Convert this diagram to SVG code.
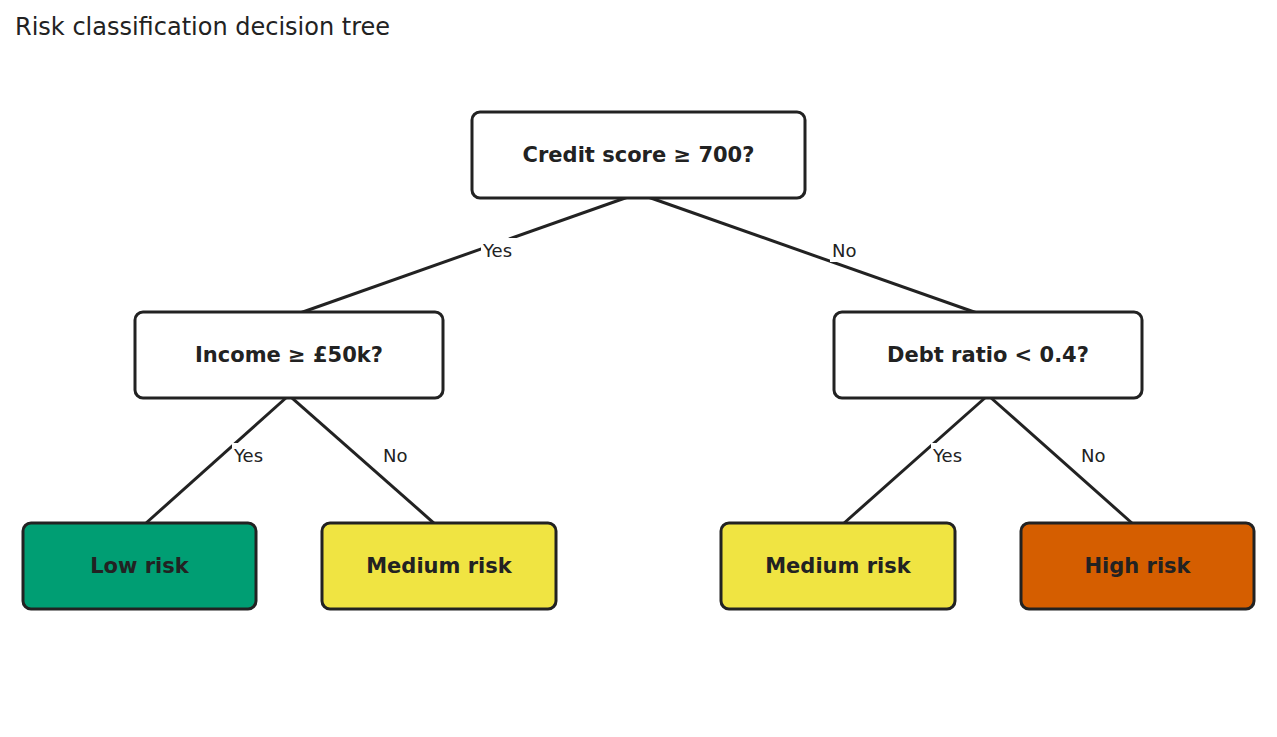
<svg xmlns="http://www.w3.org/2000/svg" width="1277" height="737" viewBox="0 0 1277 737">
<style>
.n{stroke:#222;stroke-width:3}
.t{font-family:"DejaVu Sans",sans-serif;font-weight:bold;font-size:21px;fill:#222;text-anchor:middle;dominant-baseline:central}
.e{stroke:#222;stroke-width:3;fill:none}
.l{font-family:"DejaVu Sans",sans-serif;font-size:18px;fill:#222;dominant-baseline:central}
</style>
<rect width="1277" height="737" fill="#fff"/>
<text x="15" y="27" style="font-family:'DejaVu Sans',sans-serif;font-size:24px;fill:#222" dominant-baseline="central">Risk classification decision tree</text>
<g id="connectors">
<line class="e" x1="628" y1="197" x2="300" y2="313"/>
<line class="e" x1="648" y1="197" x2="977" y2="313"/>
<line class="e" x1="287" y1="397" x2="145" y2="524"/>
<line class="e" x1="291" y1="397" x2="435" y2="524"/>
<line class="e" x1="986" y1="397" x2="843" y2="524"/>
<line class="e" x1="990" y1="397" x2="1133" y2="524"/>
<rect x="481" y="238" width="36" height="24" fill="#fff"/><text class="l" x="483" y="250">Yes</text>
<rect x="830" y="238" width="30" height="24" fill="#fff"/><text class="l" x="832" y="250">No</text>
<rect x="232" y="443" width="36" height="24" fill="#fff"/><text class="l" x="234" y="455">Yes</text>
<text class="l" x="383" y="455">No</text>
<rect x="931" y="443" width="36" height="24" fill="#fff"/><text class="l" x="933" y="455">Yes</text>
<text class="l" x="1081" y="455">No</text>
</g>
<g id="root"><rect class="n" x="472" y="112" width="333" height="86" rx="8" fill="#fff"/><text class="t" x="638.5" y="155">Credit score ≥ 700?</text></g>
<g id="income"><rect class="n" x="135" y="312" width="308" height="86" rx="8" fill="#fff"/><text class="t" x="289" y="355">Income ≥ £50k?</text></g>
<g id="debt"><rect class="n" x="834" y="312" width="308" height="86" rx="8" fill="#fff"/><text class="t" x="988" y="355">Debt ratio &lt; 0.4?</text></g>
<g id="low"><rect class="n" x="23" y="523" width="233" height="86" rx="8" fill="#009E73"/><text class="t" x="139.5" y="566">Low risk</text></g>
<g id="med1"><rect class="n" x="322" y="523" width="234" height="86" rx="8" fill="#F0E442"/><text class="t" x="439" y="566">Medium risk</text></g>
<g id="med2"><rect class="n" x="721" y="523" width="234" height="86" rx="8" fill="#F0E442"/><text class="t" x="838" y="566">Medium risk</text></g>
<g id="high"><rect class="n" x="1021" y="523" width="233" height="86" rx="8" fill="#D55E00"/><text class="t" x="1137.5" y="566">High risk</text></g>
</svg>
